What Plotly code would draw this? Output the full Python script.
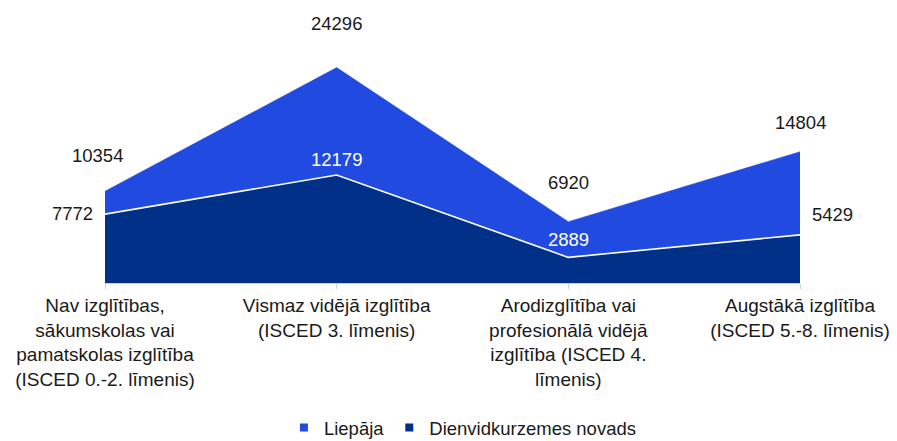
import plotly.graph_objects as go

categories = [
    "Nav izglītības,<br>sākumskolas vai<br>pamatskolas izglītība<br>(ISCED 0.-2. līmenis)",
    "Vismaz vidējā izglītība<br>(ISCED 3. līmenis)",
    "Arodizglītība vai<br>profesionālā vidējā<br>izglītība (ISCED 4.<br>līmenis)",
    "Augstākā izglītība<br>(ISCED 5.-8. līmenis)",
]
liepaja = [10354, 24296, 6920, 14804]
dienvid = [7772, 12179, 2889, 5429]
series_names = ["Liepāja", "Dienvidkurzemes novads"]

C_LIEP = "#214AE0"
C_DIEN = "#003087"
FONT = "Liberation Sans, Arial, sans-serif"
FS = 18.5

fig = go.Figure()
fig.add_trace(go.Scatter(x=categories, y=liepaja, mode="lines", fill="tozeroy",
                         line=dict(color=C_LIEP, width=0.5), fillcolor=C_LIEP,
                         showlegend=False, hoverinfo="skip"))
fig.add_trace(go.Scatter(x=categories, y=dienvid, mode="lines", fill="tozeroy",
                         line=dict(color="white", width=1.6), fillcolor=C_DIEN,
                         showlegend=False, hoverinfo="skip"))
# legend entries
for name, col in zip(series_names, [C_LIEP, C_DIEN]):
    fig.add_trace(go.Scatter(x=[None], y=[None], mode="markers", name=name,
                             marker=dict(symbol="square", size=8, color=col)))

# data labels
liep_shift = [(-8, 36, "center"), (0, 44, "center"), (0, 39, "center"), (0, 29, "center")]
dien_shift = [(-10, 1, "right"), (0, 16, "center"), (0, 18, "center"), (10, 20, "left")]
dien_col = ["#1a1a1a", "white", "white", "#1a1a1a"]
for i, c in enumerate(categories):
    dx, dy, xa = liep_shift[i]
    fig.add_annotation(x=c, y=liepaja[i], text=str(liepaja[i]), showarrow=False,
                       xshift=dx, yshift=dy, xanchor=xa,
                       font=dict(family=FONT, size=FS, color="#1a1a1a"))
    dx, dy, xa = dien_shift[i]
    fig.add_annotation(x=c, y=dienvid[i], text=str(dienvid[i]), showarrow=False,
                       xshift=dx, yshift=dy, xanchor=xa,
                       font=dict(family=FONT, size=FS, color=dien_col[i]))

fig.update_layout(
    width=897, height=441,
    margin=dict(l=105, r=97, t=17, b=158, autoexpand=False),
    plot_bgcolor="white", paper_bgcolor="white",
    font=dict(family=FONT, size=FS, color="#1a1a1a"),
    showlegend=True,
    legend=dict(orientation="h", x=0.515, xanchor="center", y=-0.545, yanchor="middle",
                font=dict(family=FONT, size=FS, color="#1a1a1a"),
                itemwidth=30, tracegroupgap=0),
    xaxis=dict(type="category", range=[0, 3], showgrid=False, zeroline=False,
               showline=True, linecolor="#d0d0d0", linewidth=1, automargin=False,
               ticks="outside", ticklen=5, tickcolor="#d0d0d0",
               tickfont=dict(family=FONT, size=19, color="#1a1a1a")),
    yaxis=dict(range=[0, 30000], showgrid=False, zeroline=False, showline=False,
               showticklabels=False, ticks="", automargin=False),
)

fig.write_html("out.html", config={"displayModeBar": False})

# remove the default page margin so the figure sits at the window's corner
with open("out.html", "r", encoding="utf-8") as f:
    html = f.read()
html = html.replace("<body>", '<body style="margin:0;padding:0;overflow:hidden">', 1)
with open("out.html", "w", encoding="utf-8") as f:
    f.write(html)
